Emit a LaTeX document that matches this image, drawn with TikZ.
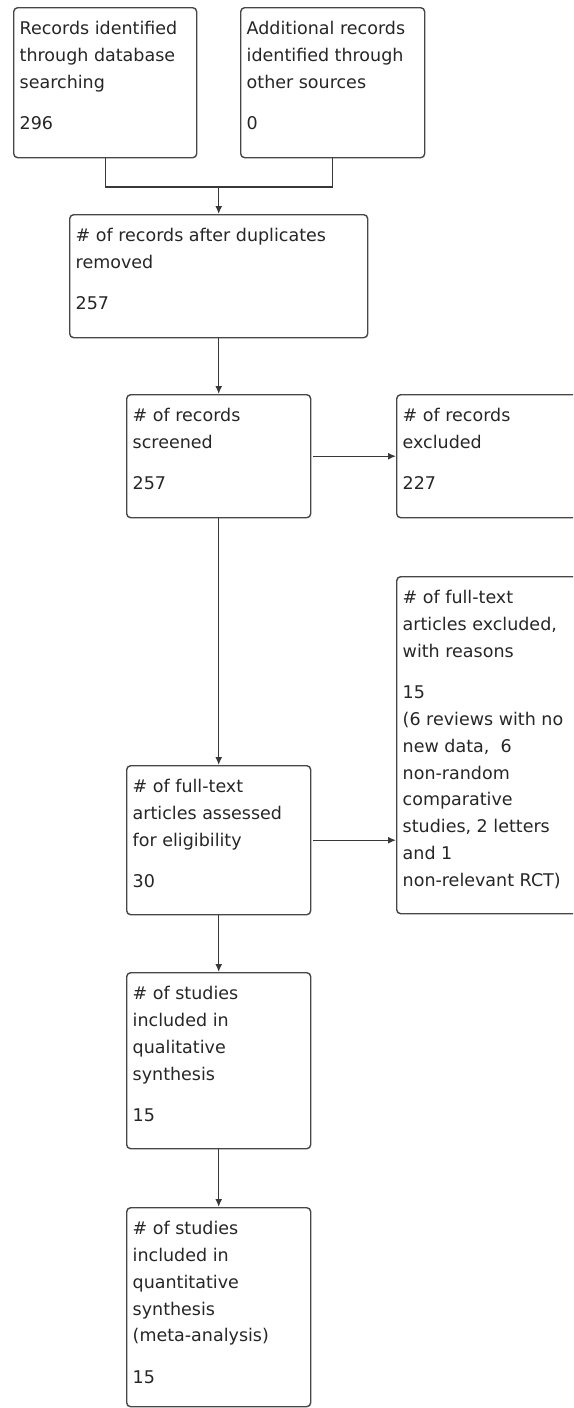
\documentclass[tikz,border=0pt]{standalone}
\usepackage{fontspec}
\setmainfont{DejaVu Sans}
\usetikzlibrary{arrows.meta,calc}

\tikzset{
  flowbox/.style={draw=black!72, line width=1.4pt, rounded corners=4pt,
    anchor=north west, inner sep=0pt},
  boxtext/.style={anchor=north west, inner sep=0pt, align=left,
    text=black!85, font=\fontsize{17.5}{26.8}\selectfont},
  link/.style={draw=black!78, line width=1.4pt},
  arrowlink/.style={link, -{Latex[length=8pt,width=7pt]}}
}

% a box of given size with its text set from the top-left corner
\newcommand\flowstep[6]{%
  \node[flowbox, minimum width=#4pt, minimum height=#5pt] (#1) at (#2,#3) {};
  \node[boxtext] (#1-text) at ($(#1.north west)+(6.5,14.2)$) {#6};
}

\begin{document}
\begin{tikzpicture}[x=1pt,y=-1pt]
\useasboundingbox (0,0) rectangle (573,1408);
\clip (0,0) rectangle (573,1408);

\flowstep{ident}{13}{7}{183}{150}{Records identified\\through database\\searching\\[14.6pt]296}
\flowstep{other}{240}{7}{184}{150}{Additional records\\identified through\\other sources\\[14.6pt]0}
\flowstep{dedup}{69}{214}{298}{123}{\# of records after duplicates\\removed\\[14.6pt]257}
\flowstep{screen}{126}{394}{184}{123}{\# of records\\screened\\[14.6pt]257}
\flowstep{recex}{396}{394}{192}{123}{\# of records\\excluded\\[14.6pt]227}
\flowstep{ftex}{396}{576}{192}{337}{\# of full-text\\articles excluded,\\with reasons\\[14.6pt]15\\(6 reviews with no\\new data,\ \ 6\\non-random\\comparative\\studies, 2 letters\\and 1\\non-relevant RCT)}
\flowstep{elig}{126}{765}{184}{149}{\# of full-text\\articles assessed\\for eligibility\\[14.6pt]30}
\flowstep{qual}{126}{972}{184}{176}{\# of studies\\included in\\qualitative\\synthesis\\[14.6pt]15}
\flowstep{quant}{126}{1207}{184}{199}{\# of studies\\included in\\quantitative\\synthesis\\(meta-analysis)\\[14.6pt]15}

% merge of the two identification sources
\coordinate (join) at ($(dedup.north)+(0,-27)$);
\draw[link] (ident.south) |- (join);
\draw[link] (other.south) |- (join);
\draw[arrowlink] (join) -- (dedup.north);

\draw[arrowlink] (dedup.south) -- (screen.north);
\draw[arrowlink] ($(screen.east)+(2,0)$) -- (recex.west);
\draw[arrowlink] (screen.south) -- (elig.north);
\draw[arrowlink] ($(elig.east)+(2,0)$) -- (elig.east -| ftex.west);
\draw[arrowlink] (elig.south) -- (qual.north);
\draw[arrowlink] (qual.south) -- (quant.north);
\end{tikzpicture}
\end{document}
